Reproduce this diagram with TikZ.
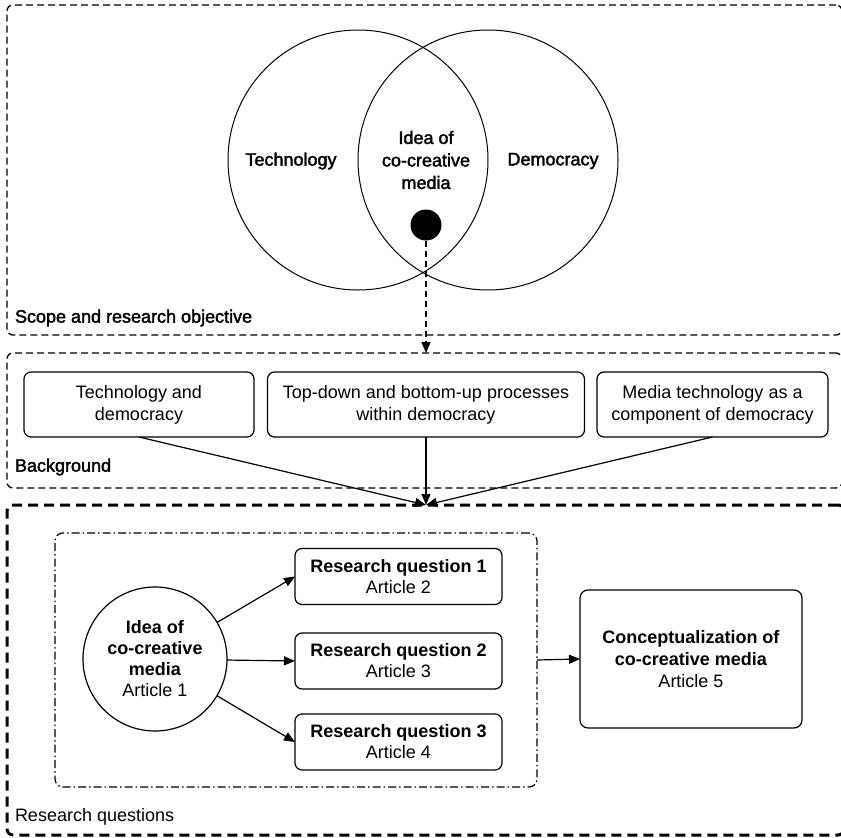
\documentclass[tikz,border=0pt]{standalone}
\usepackage{fontspec}
\setmainfont{Liberation Sans}
\newfontfamily\medfont{Liberation Sans}[FakeBold=2]
\usetikzlibrary{arrows.meta}

\begin{document}
\begin{tikzpicture}[x=1pt,y=-1pt,
  every node/.style={inner sep=0pt, outer sep=0pt},
  txt/.style={font=\fontsize{18pt}{22pt}\selectfont, align=center},
  medtxt/.style={font=\medfont\fontsize{18pt}{22.5pt}\selectfont, align=center},
  frame/.style={draw, line width=1.3pt, dash pattern=on 7pt off 4pt, rounded corners=6pt},
  bigframe/.style={draw, line width=3pt, dash pattern=on 10pt off 6pt, rounded corners=6pt},
  groupbox/.style={draw, line width=1.2pt, dash pattern=on 8pt off 3pt on 1.5pt off 3pt, rounded corners=8pt},
  venn/.style={draw, circle, line width=1pt, minimum size=260pt},
  topicbox/.style={draw, line width=1.2pt, rounded corners=7pt, minimum height=65pt, txt},
  rqbox/.style={draw, line width=1.2pt, rounded corners=7pt, minimum width=207pt, minimum height=56pt, txt, font=\fontsize{18pt}{21pt}\selectfont},
  arr/.style={-{Triangle[length=11pt,width=9pt]}, line width=1.2pt},
  dasharr/.style={-{Triangle[length=11pt,width=9pt]}, line width=1.3pt, dash pattern=on 6pt off 4pt}
]
\useasboundingbox (0,0) rectangle (841,838);

% section frames (their right edges run off the page)
\node[frame, minimum width=835pt, minimum height=330pt] (scope) at (424.5,170) {};
\node[frame, minimum width=835pt, minimum height=135pt] (bg) at (424.5,420.5) {};
\node[bigframe, minimum width=837pt, minimum height=330pt] (rq) at (425.5,670) {};

\node[medtxt, anchor=west] (scopelab) at (15,318) {Scope and research objective};
\node[medtxt, anchor=west] (bglab) at (15,467) {Background};
\node[txt, anchor=west] (rqlab) at (15,817) {Research questions};

% Venn diagram
\node[venn] (tech) at (358,160) {};
\node[venn] (demo) at (488,160) {};
\node[medtxt] (techlab) at (291,161) {Technology};
\node[medtxt] (demolab) at (553,161) {Democracy};
\node[medtxt] (idealab) at (426,160) {Idea of\\co-creative\\media};
\node[circle, fill=black, minimum size=31pt] (dot) at (426,225) {};
\coordinate (bgtop) at (426,353);
\draw[dasharr] (dot) -- (bgtop);

% background topics
\node[topicbox, minimum width=230pt] (b1) at (139,404.5) {Technology and\\democracy};
\node[topicbox, minimum width=317pt] (b2) at (426,404.5) {Top-down and bottom-up processes\\within democracy};
\node[topicbox, minimum width=231pt] (b3) at (712.5,404.5) {Media technology as a\\component of democracy};
\coordinate (join) at (426,505);
\draw[arr] (b1.south) -- (join);
\draw[arr] (b2.south) -- (join);
\draw[arr] (b3.south) -- (join);

% research questions
\node[groupbox, minimum width=482pt, minimum height=254pt] (group) at (296,660) {};
\node[draw, circle, line width=1.2pt, minimum size=144pt, txt, font=\fontsize{18pt}{21pt}\selectfont] (idea) at (155,659)
  {\textbf{Idea of}\\\textbf{co-creative}\\\textbf{media}\\Article 1};
\node[rqbox] (rq1) at (398.5,576.5) {\textbf{Research question 1}\\Article 2};
\node[rqbox] (rq2) at (398.5,661) {\textbf{Research question 2}\\Article 3};
\node[rqbox] (rq3) at (398.5,742) {\textbf{Research question 3}\\Article 4};
\node[draw, line width=1.2pt, rounded corners=8pt, minimum width=222pt, minimum height=138pt, txt] (concept) at (691,659)
  {\textbf{Conceptualization of}\\\textbf{co-creative media}\\Article 5};

\draw[arr] (idea) -- (rq1.west);
\draw[arr] (idea) -- (rq2.west);
\draw[arr] (idea) -- (rq3.west);
\draw[arr] (group.east) -- (concept.west);
\end{tikzpicture}
\end{document}
